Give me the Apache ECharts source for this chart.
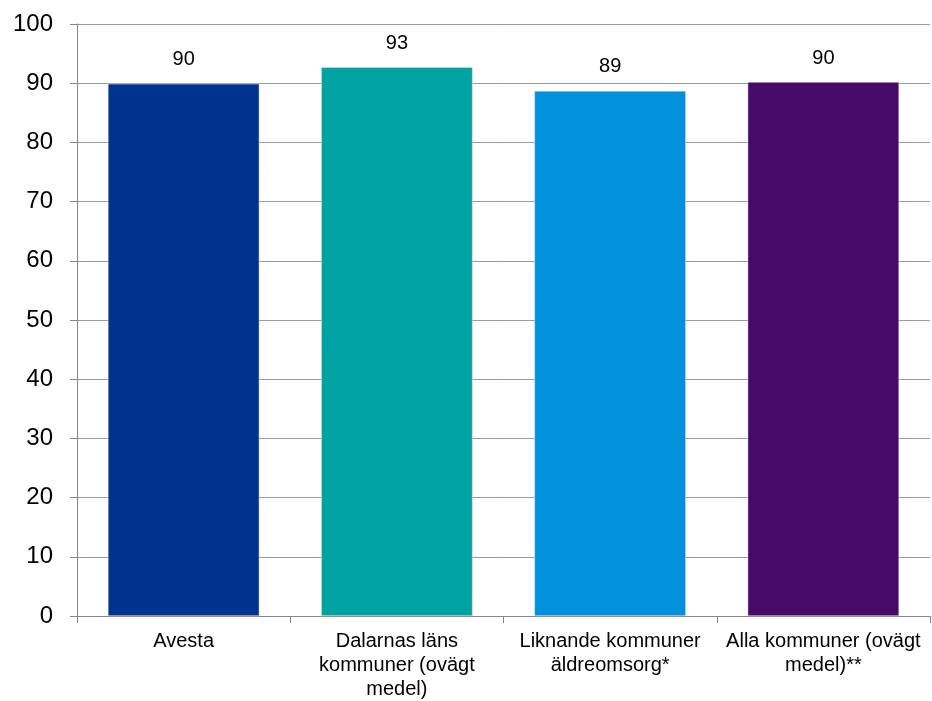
<!DOCTYPE html>
<html><head><meta charset="utf-8">
<script src="https://cdn.jsdelivr.net/npm/echarts@6/dist/echarts.min.js"></script>
<style>html,body{margin:0;padding:0;background:#fff}#c{width:932px;height:701px}</style>
</head><body><div id="c"></div>
<script>
const categories = ["Avesta", "Dalarnas läns\nkommuner (ovägt\nmedel)", "Liknande kommuner\näldreomsorg*", "Alla kommuner (ovägt\nmedel)**"];
const values = [89.9, 92.7, 88.7, 90.2];
const colors = ["#00338D", "#00A3A1", "#0091DA", "#470A68"];
const yTicks = [0, 10, 20, 30, 40, 50, 60, 70, 80, 90, 100];

const chart = echarts.init(document.getElementById('c'), null, {renderer: 'canvas'});
chart.setOption({
  animation: false,
  textStyle: {fontFamily: 'Liberation Sans, Arial, sans-serif'},
  grid: {left: 77, right: 2, top: 24, bottom: 85},
  xAxis: {
    type: 'category', data: categories,
    axisLine: {lineStyle: {color: '#868686', width: 1}},
    axisTick: {show: true, length: 7, lineStyle: {color: '#868686'}},
    axisLabel: {color: '#000', fontSize: 20, lineHeight: 24, margin: 13, interval: 0}
  },
  yAxis: {
    type: 'value', min: yTicks[0], max: yTicks[yTicks.length - 1], interval: 10,
    axisLine: {show: true, lineStyle: {color: '#868686'}},
    axisTick: {show: true, length: 7, lineStyle: {color: '#868686'}},
    axisLabel: {color: '#000', fontSize: 24, margin: 24},
    splitLine: {lineStyle: {color: '#9a9a9a', width: 1}}
  },
  series: [{
    type: 'bar', barWidth: '71%',
    data: values.map((v, i) => ({value: v, itemStyle: {color: colors[i]}})),
    itemStyle: {borderColor: '#e8e8e8', borderWidth: 0.5},
    label: {show: true, position: 'top', distance: 14, color: '#000', fontSize: 20,
      formatter: p => Math.round(p.value)}
  }]
});
</script></body></html>
